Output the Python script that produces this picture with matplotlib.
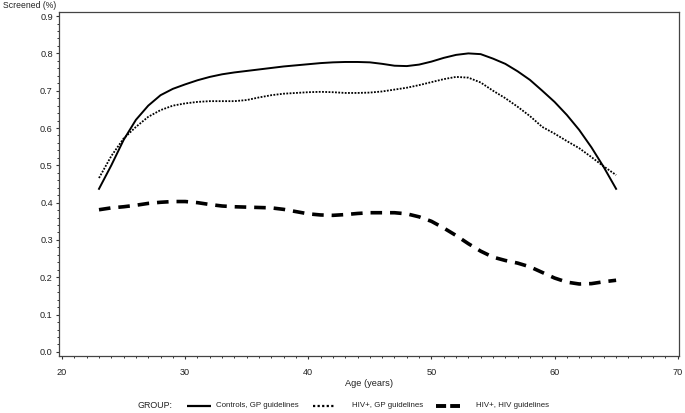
import matplotlib
matplotlib.use("Agg")
import matplotlib.pyplot as plt
from matplotlib.ticker import MultipleLocator
from matplotlib.lines import Line2D

plt.rcParams['font.family'] = ['Liberation Sans', 'DejaVu Sans']

ages = list(range(23, 66))
controls_gp = [0.437, 0.500, 0.568, 0.622, 0.660, 0.688, 0.705, 0.717, 0.728, 0.737,
               0.744, 0.749, 0.753, 0.757, 0.761, 0.765, 0.768, 0.771, 0.774, 0.776,
               0.777, 0.777, 0.776, 0.772, 0.767, 0.766, 0.770, 0.778, 0.788, 0.796,
               0.800, 0.798, 0.786, 0.772, 0.752, 0.729, 0.700, 0.670, 0.635, 0.595,
               0.548, 0.495, 0.437]
hiv_gp = [0.466, 0.525, 0.572, 0.603, 0.630, 0.648, 0.660, 0.666, 0.670, 0.672,
          0.672, 0.672, 0.675, 0.682, 0.688, 0.692, 0.694, 0.696, 0.697, 0.696,
          0.694, 0.694, 0.695, 0.698, 0.703, 0.708, 0.715, 0.723, 0.731, 0.737,
          0.735, 0.722, 0.700, 0.680, 0.657, 0.632, 0.603, 0.585, 0.565, 0.546,
          0.522, 0.497, 0.474]
hiv_hiv = [0.381, 0.386, 0.389, 0.393, 0.398, 0.401, 0.403, 0.403, 0.400, 0.395,
           0.391, 0.389, 0.388, 0.387, 0.386, 0.382, 0.376, 0.370, 0.367, 0.366,
           0.368, 0.371, 0.373, 0.373, 0.373, 0.370, 0.362, 0.350, 0.332, 0.312,
           0.290, 0.270, 0.254, 0.245, 0.238, 0.228, 0.213, 0.198, 0.187, 0.182,
           0.183, 0.188, 0.192]
labels = ["Controls, GP guidelines", "HIV+, GP guidelines", "HIV+, HIV guidelines"]
x_ticks = [20, 30, 40, 50, 60, 70]
y_ticks = [0.0, 0.1, 0.2, 0.3, 0.4, 0.5, 0.6, 0.7, 0.8, 0.9]

TXT = '#222222'
fig = plt.figure(figsize=(6.85, 4.13), dpi=100)
ax = fig.add_axes([0.0861, 0.138, 0.905, 0.833])

ax.plot(ages, controls_gp, color='black', lw=1.4, linestyle='-')
ax.plot(ages, hiv_gp, color='black', lw=1.3, linestyle=(0, (1, 0.8)))
ax.plot(ages, hiv_hiv, color='black', lw=2.6, linestyle=(0, (3.2, 2.2)))

ax.set_xlim(19.75, 70.1)
ax.set_ylim(-0.011, 0.911)
ax.set_xticks(x_ticks)
ax.set_yticks(y_ticks)
ax.set_yticklabels([f"{v:.1f}" for v in y_ticks])
ax.xaxis.set_minor_locator(MultipleLocator(1))
ax.yaxis.set_minor_locator(MultipleLocator(0.02))
ax.tick_params(which='major', direction='out', length=2.4, width=0.8, labelsize=6.6,
               colors='#333333', labelcolor=TXT)
ax.tick_params(which='minor', direction='out', length=1.4, width=0.7, colors='#333333')
ax.tick_params(axis='x', which='major', pad=6)
ax.tick_params(axis='y', which='major', pad=2)
for s in ax.spines.values():
    s.set_color('#444444')
    s.set_linewidth(0.9)

fig.text(3 / 685, 1 - 1.5 / 413, "Screened (%)", fontsize=6.2, ha='left', va='top', color=TXT)
fig.text(369 / 685, 1 - 383 / 413, "Age (years)", fontsize=6.7, ha='center', va='center', color=TXT)

# legend, built from the label list
ly = 1 - 405.5 / 413
fig.text(138 / 685, ly, "GROUP:", fontsize=6.4, ha='left', va='center', color=TXT)
handle_specs = [
    (187, 211, dict(color='black', lw=1.6, linestyle='-'), 216),
    (313, 334, dict(color='black', lw=1.6, linestyle=(0, (1, 1.05))), 352),
    (436, 460, dict(color='black', lw=2.8, linestyle=(0, (2.6, 1.05))), 476),
]
for (x0, x1, style, tx), lab in zip(handle_specs, labels):
    fig.add_artist(Line2D([x0 / 685, x1 / 685], [ly, ly], transform=fig.transFigure,
                          solid_capstyle='butt', dash_capstyle='butt', **style))
    fig.text(tx / 685, ly, lab, fontsize=5.7, ha='left', va='center', color=TXT)

fig.savefig("out.png", dpi=100)
